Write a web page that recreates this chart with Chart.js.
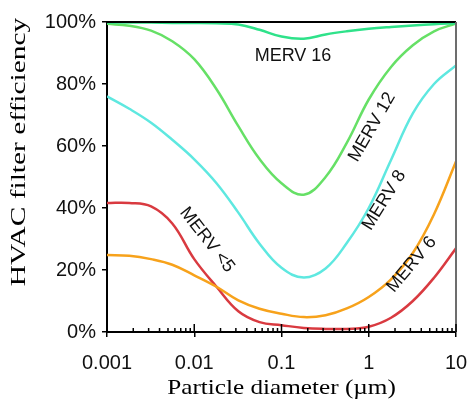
<!DOCTYPE html>
<html>
<head>
<meta charset="utf-8">
<script src="https://cdn.jsdelivr.net/npm/chart.js@4.4.1/dist/chart.umd.min.js"></script>
<style>
  html, body { margin: 0; padding: 0; background: #fff; }
  #wrap { width: 474px; height: 417px; }
</style>
</head>
<body>
<div id="wrap"><canvas id="c"></canvas></div>
<script>
const diameters = [0.001, 0.0018, 0.0032, 0.0056, 0.01, 0.018, 0.032, 0.056, 0.1, 0.18, 0.32, 0.56, 1, 1.8, 3.2, 5.6, 10];

// filter efficiency (%)
const merv16 = [99.8, 99.8, 99.8, 99.7, 99.7, 99.6, 99.2, 97.5, 95.3, 94.6, 96, 97, 97.8, 98.4, 98.9, 99.3, 99.6];
const merv12 = [99.4, 98.8, 97.2, 93.8, 88, 78.3, 66.4, 55.8, 48, 44.3, 50, 61, 75, 85.5, 92.5, 97, 99.5];
const merv8 = [76, 72, 67.5, 62, 55.7, 48, 38.5, 28.5, 20.7, 17.6, 20.5, 28.7, 40, 55.5, 70.5, 80, 86];
const merv6 = [24.8, 24.6, 23.5, 21.7, 18.3, 14.6, 10.2, 7.5, 5.9, 4.8, 5.4, 7.6, 11.3, 17, 25.5, 38, 55];
const merv5 = [41.6, 41.6, 40.5, 35, 23.5, 14.6, 6.7, 3.2, 2.2, 1.3, 1, 1, 1.7, 4.6, 10, 17.5, 27];

const seriesNames = ['MERV 16', 'MERV 12', 'MERV 8', 'MERV 6', 'MERV <5'];
const seriesColors = ['#2fe28a', '#66e066', '#5ee8e0', '#f7a21b', '#d93a40'];

const xTicks = [0.001, 0.01, 0.1, 1, 10];
const xTickLabels = ['0.001', '0.01', '0.1', '1', '10'];
const yTicks = [0, 20, 40, 60, 80, 100];

// curve labels, placed in data units
const labelX = [0.1355, 1.09, 1.5, 3.1, 0.014];
const labelY = [89, 66.1, 42.5, 21.8, 29.7];
const labelAngle = [0, -60, -58, -50, 52];

const allY = [merv16, merv12, merv8, merv6, merv5];

const datasets = seriesNames.map((name, i) => ({
  label: name,
  data: diameters.map((x, j) => ({ x: x, y: allY[i][j] })),
  borderColor: seriesColors[i],
  borderWidth: 2.5,
  pointRadius: 0,
  tension: 0.4,
  fill: false
}));

// draws stretched text, the source figure has its titles widened
function wideText(ctx, text, x, y, angle, sx) {
  ctx.save();
  ctx.translate(x, y);
  ctx.rotate(angle);
  ctx.scale(sx, 1);
  ctx.fillText(text, 0, 0);
  ctx.restore();
}

const extras = {
  id: 'extras',
  afterDraw(chart) {
    const ctx = chart.ctx;
    const a = chart.chartArea;
    const xs = chart.scales.x;
    const ys = chart.scales.y;
    ctx.save();

    // top and right frame
    ctx.lineWidth = 2;
    ctx.strokeStyle = '#000';
    ctx.beginPath();
    ctx.moveTo(a.left, a.top);
    ctx.lineTo(a.right, a.top);
    ctx.stroke();
    ctx.strokeStyle = '#6d6d6d';
    ctx.beginPath();
    ctx.moveTo(a.right, a.top);
    ctx.lineTo(a.right, a.bottom);
    ctx.stroke();

    // inward ticks on the log axis
    ctx.strokeStyle = '#000';
    ctx.lineWidth = 1.5;
    for (let d = 0; d < xTicks.length - 1; d++) {
      for (let k = 1; k <= 9; k++) {
        const px = xs.getPixelForValue(xTicks[d] * k);
        const len = k === 1 ? 8 : 4;
        ctx.beginPath();
        ctx.moveTo(px, a.bottom);
        ctx.lineTo(px, a.bottom - len);
        ctx.stroke();
      }
    }
    const pEnd = xs.getPixelForValue(xTicks[xTicks.length - 1]);
    ctx.beginPath();
    ctx.moveTo(pEnd, a.bottom);
    ctx.lineTo(pEnd, a.bottom - 8);
    ctx.stroke();

    // curve labels
    ctx.fillStyle = '#111';
    ctx.font = '18px "Liberation Sans", Arial, sans-serif';
    ctx.textAlign = 'center';
    ctx.textBaseline = 'middle';
    seriesNames.forEach((name, i) => {
      wideText(ctx, name, xs.getPixelForValue(labelX[i]), ys.getPixelForValue(labelY[i]),
        labelAngle[i] * Math.PI / 180, 1);
    });

    // axis titles
    ctx.font = '21px "Liberation Serif", "Times New Roman", serif';
    ctx.fillStyle = '#000';
    wideText(ctx, 'Particle diameter (\u00b5m)', (a.left + a.right) / 2, 388, 0, 1.2);
    wideText(ctx, 'HVAC filter efficiency', 19, 152, -Math.PI / 2, 1.4);

    ctx.restore();
  }
};

new Chart(document.getElementById('c'), {
  type: 'line',
  data: { datasets: datasets },
  options: {
    responsive: true,
    maintainAspectRatio: false,
    animation: false,
    layout: { padding: { top: 22, right: 18, left: 0, bottom: 0 } },
    plugins: { legend: { display: false }, tooltip: { enabled: false } },
    scales: {
      x: {
        type: 'logarithmic',
        min: 0.001,
        max: 10,
        afterBuildTicks: (s) => { s.ticks = xTicks.map(v => ({ value: v })); },
        afterFit: (s) => { s.height = 85; s.paddingLeft = 0; s.paddingRight = 0; },
        ticks: {
          autoSkip: false,
          maxRotation: 0,
          padding: 14,
          color: '#111',
          font: { family: '"Liberation Sans", Arial, sans-serif', size: 20 },
          callback: (v, i) => xTickLabels[i]
        },
        grid: { drawOnChartArea: false, drawTicks: true, tickLength: 5, color: '#000', lineWidth: 1.5 },
        border: { display: true, color: '#000', width: 2 }
      },
      y: {
        min: 0,
        max: 100,
        afterBuildTicks: (s) => { s.ticks = yTicks.map(v => ({ value: v })); },
        afterFit: (s) => { s.width = 107; },
        ticks: {
          padding: 6,
          color: '#111',
          font: { family: '"Liberation Sans", Arial, sans-serif', size: 20 },
          callback: (v) => v + '%'
        },
        grid: { drawOnChartArea: false, drawTicks: true, tickLength: 5, color: '#000', lineWidth: 1.5 },
        border: { display: true, color: '#000', width: 2 }
      }
    }
  },
  plugins: [extras]
});
</script>
</body>
</html>
